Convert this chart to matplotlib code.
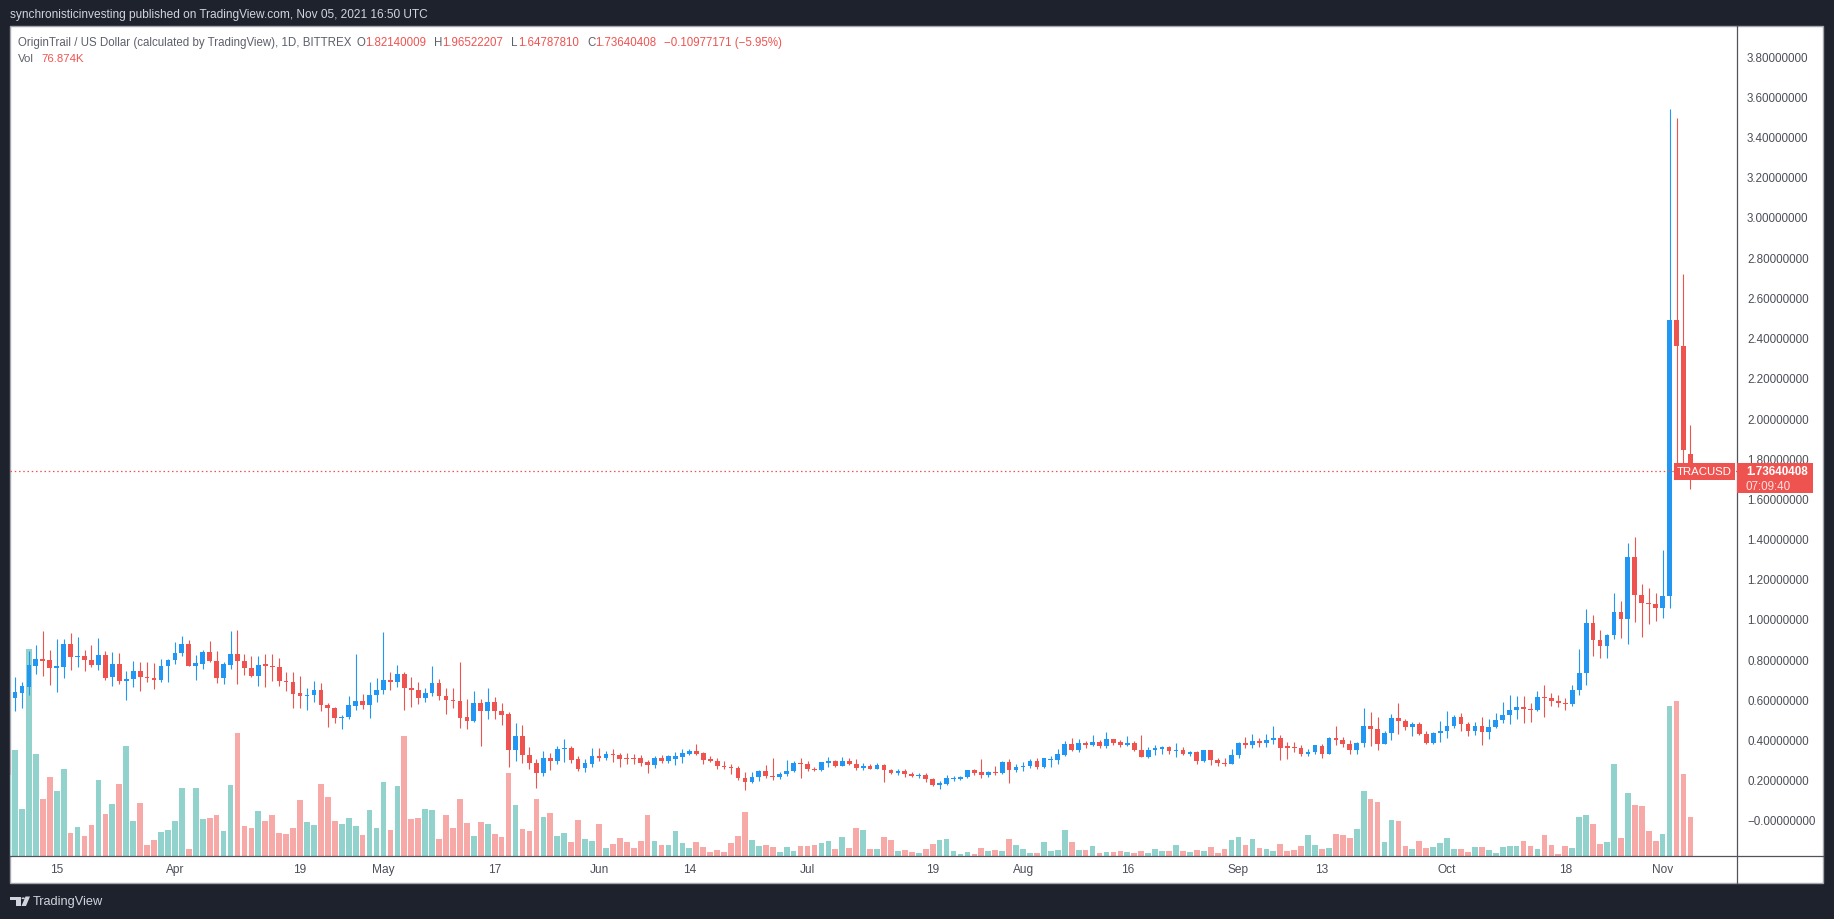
import matplotlib
matplotlib.use("Agg")
import matplotlib.pyplot as plt
import matplotlib.dates as mdates
from matplotlib.patches import Rectangle, Polygon, Circle
from matplotlib.lines import Line2D
import numpy as np
import pandas as pd

W, H = 1834, 920

# TRAC/USD daily candles (BITTREX), 2021-03-08 .. 2021-11-05
opens = [0.545, 0.609, 0.634, 0.663, 0.768, 0.801, 0.796, 0.758, 0.763, 0.876,
         0.813, 0.816, 0.798, 0.773, 0.821, 0.713, 0.776, 0.693, 0.701, 0.741,
         0.713, 0.706, 0.698, 0.766, 0.796, 0.831, 0.876, 0.768, 0.778, 0.836,
         0.793, 0.708, 0.773, 0.826, 0.793, 0.758, 0.718, 0.776, 0.766, 0.763,
         0.693, 0.688, 0.632, 0.619, 0.622, 0.647, 0.574, 0.559, 0.509, 0.512,
         0.569, 0.592, 0.572, 0.622, 0.648, 0.697, 0.685, 0.726, 0.655, 0.648,
         0.609, 0.630, 0.680, 0.619, 0.597, 0.592, 0.514, 0.494, 0.582, 0.544,
         0.587, 0.544, 0.527, 0.348, 0.418, 0.325, 0.284, 0.235, 0.308, 0.294,
         0.353, 0.358, 0.303, 0.260, 0.279, 0.318, 0.308, 0.328, 0.325, 0.308,
         0.308, 0.308, 0.289, 0.275, 0.308, 0.294, 0.303, 0.313, 0.328, 0.343,
         0.333, 0.303, 0.294, 0.270, 0.265, 0.260, 0.209, 0.189, 0.214, 0.244,
         0.219, 0.216, 0.231, 0.244, 0.284, 0.280, 0.254, 0.250, 0.285, 0.294,
         0.270, 0.294, 0.279, 0.259, 0.269, 0.255, 0.274, 0.250, 0.234, 0.244,
         0.229, 0.221, 0.224, 0.204, 0.176, 0.178, 0.205, 0.205, 0.212, 0.249,
         0.239, 0.226, 0.239, 0.234, 0.289, 0.250, 0.262, 0.269, 0.294, 0.264,
         0.298, 0.300, 0.323, 0.378, 0.348, 0.385, 0.373, 0.388, 0.368, 0.403,
         0.388, 0.373, 0.383, 0.348, 0.315, 0.348, 0.355, 0.365, 0.343, 0.348,
         0.330, 0.338, 0.294, 0.348, 0.299, 0.284, 0.279, 0.323, 0.383, 0.373,
         0.393, 0.383, 0.398, 0.408, 0.370, 0.363, 0.358, 0.328, 0.338, 0.370,
         0.328, 0.408, 0.400, 0.378, 0.348, 0.383, 0.468, 0.453, 0.378, 0.433,
         0.507, 0.494, 0.464, 0.478, 0.428, 0.383, 0.433, 0.443, 0.468, 0.512,
         0.478, 0.443, 0.468, 0.438, 0.463, 0.498, 0.522, 0.547, 0.562, 0.552,
         0.547, 0.612, 0.607, 0.592, 0.582, 0.577, 0.647, 0.731, 0.980, 0.896,
         0.866, 0.920, 1.035, 1.000, 1.308, 1.121, 1.080, 1.075, 1.057, 1.114,
         2.486, 2.358, 1.8214]
highs = [0.620, 0.713, 0.688, 0.842, 0.871, 0.940, 0.846, 0.900, 0.900, 0.930,
         0.910, 0.844, 0.871, 0.905, 0.842, 0.837, 0.831, 0.743, 0.791, 0.786,
         0.784, 0.781, 0.801, 0.801, 0.887, 0.917, 0.896, 0.823, 0.846, 0.891,
         0.841, 0.788, 0.940, 0.945, 0.826, 0.814, 0.816, 0.828, 0.826, 0.806,
         0.738, 0.738, 0.715, 0.657, 0.693, 0.682, 0.582, 0.564, 0.521, 0.619,
         0.828, 0.627, 0.687, 0.705, 0.935, 0.736, 0.771, 0.736, 0.710, 0.687,
         0.657, 0.766, 0.701, 0.655, 0.657, 0.788, 0.602, 0.642, 0.602, 0.657,
         0.612, 0.584, 0.536, 0.483, 0.473, 0.363, 0.303, 0.343, 0.333, 0.370,
         0.403, 0.368, 0.317, 0.302, 0.358, 0.358, 0.343, 0.353, 0.333, 0.333,
         0.330, 0.325, 0.297, 0.320, 0.325, 0.325, 0.338, 0.353, 0.353, 0.378,
         0.338, 0.318, 0.308, 0.294, 0.279, 0.269, 0.237, 0.239, 0.249, 0.274,
         0.308, 0.239, 0.299, 0.294, 0.307, 0.294, 0.264, 0.290, 0.313, 0.299,
         0.313, 0.308, 0.303, 0.284, 0.280, 0.284, 0.280, 0.255, 0.254, 0.254,
         0.240, 0.234, 0.235, 0.209, 0.194, 0.222, 0.217, 0.217, 0.249, 0.254,
         0.303, 0.244, 0.269, 0.294, 0.303, 0.279, 0.289, 0.303, 0.307, 0.308,
         0.318, 0.353, 0.393, 0.408, 0.403, 0.395, 0.423, 0.398, 0.438, 0.405,
         0.400, 0.420, 0.393, 0.423, 0.363, 0.375, 0.368, 0.368, 0.383, 0.363,
         0.343, 0.343, 0.348, 0.350, 0.310, 0.310, 0.353, 0.386, 0.413, 0.428,
         0.408, 0.428, 0.468, 0.423, 0.388, 0.388, 0.373, 0.353, 0.375, 0.378,
         0.413, 0.468, 0.413, 0.398, 0.388, 0.557, 0.537, 0.512, 0.443, 0.527,
         0.582, 0.502, 0.488, 0.488, 0.443, 0.438, 0.493, 0.542, 0.522, 0.532,
         0.488, 0.488, 0.512, 0.502, 0.532, 0.587, 0.622, 0.617, 0.617, 0.582,
         0.642, 0.672, 0.632, 0.622, 0.607, 0.672, 0.851, 1.050, 1.020, 0.945,
         0.925, 1.129, 1.090, 1.378, 1.408, 1.176, 1.154, 1.129, 1.341, 3.535,
         3.495, 2.716, 1.9652]
lows = [0.510, 0.544, 0.556, 0.624, 0.726, 0.718, 0.673, 0.638, 0.708, 0.748,
        0.763, 0.743, 0.763, 0.746, 0.698, 0.668, 0.678, 0.599, 0.663, 0.643,
        0.687, 0.653, 0.688, 0.688, 0.776, 0.818, 0.766, 0.698, 0.751, 0.784,
        0.683, 0.678, 0.751, 0.678, 0.723, 0.713, 0.668, 0.663, 0.693, 0.668,
        0.643, 0.559, 0.559, 0.547, 0.589, 0.541, 0.464, 0.483, 0.453, 0.502,
        0.549, 0.552, 0.507, 0.589, 0.629, 0.648, 0.660, 0.549, 0.564, 0.577,
        0.585, 0.619, 0.599, 0.529, 0.557, 0.458, 0.453, 0.489, 0.370, 0.502,
        0.502, 0.474, 0.265, 0.295, 0.284, 0.255, 0.161, 0.221, 0.249, 0.280,
        0.289, 0.284, 0.245, 0.240, 0.265, 0.294, 0.300, 0.289, 0.264, 0.279,
        0.279, 0.269, 0.234, 0.259, 0.284, 0.285, 0.274, 0.284, 0.323, 0.325,
        0.279, 0.289, 0.254, 0.255, 0.229, 0.199, 0.149, 0.186, 0.196, 0.209,
        0.199, 0.206, 0.219, 0.237, 0.209, 0.244, 0.244, 0.245, 0.265, 0.265,
        0.269, 0.275, 0.250, 0.250, 0.252, 0.254, 0.189, 0.229, 0.226, 0.216,
        0.214, 0.209, 0.191, 0.171, 0.154, 0.176, 0.196, 0.201, 0.209, 0.226,
        0.209, 0.216, 0.226, 0.229, 0.184, 0.240, 0.245, 0.259, 0.255, 0.259,
        0.265, 0.279, 0.318, 0.345, 0.340, 0.360, 0.370, 0.360, 0.360, 0.375,
        0.362, 0.367, 0.345, 0.313, 0.310, 0.323, 0.328, 0.328, 0.315, 0.323,
        0.317, 0.280, 0.289, 0.275, 0.270, 0.270, 0.277, 0.308, 0.358, 0.358,
        0.363, 0.363, 0.378, 0.299, 0.303, 0.338, 0.320, 0.320, 0.328, 0.308,
        0.326, 0.375, 0.363, 0.328, 0.328, 0.363, 0.368, 0.348, 0.376, 0.398,
        0.428, 0.448, 0.418, 0.423, 0.380, 0.380, 0.388, 0.408, 0.458, 0.443,
        0.418, 0.423, 0.373, 0.403, 0.458, 0.483, 0.478, 0.502, 0.483, 0.488,
        0.542, 0.512, 0.567, 0.562, 0.547, 0.567, 0.622, 0.672, 0.816, 0.806,
        0.806, 0.900, 0.905, 0.876, 0.985, 0.910, 0.975, 0.990, 1.007, 1.057,
        1.760, 1.760, 1.6479]
closes = [0.605, 0.637, 0.667, 0.771, 0.801, 0.793, 0.758, 0.766, 0.876, 0.813,
          0.816, 0.798, 0.773, 0.821, 0.706, 0.776, 0.693, 0.701, 0.741, 0.713,
          0.705, 0.698, 0.766, 0.796, 0.831, 0.876, 0.768, 0.781, 0.836, 0.793,
          0.708, 0.776, 0.826, 0.793, 0.758, 0.718, 0.771, 0.766, 0.760, 0.693,
          0.688, 0.629, 0.619, 0.622, 0.647, 0.574, 0.559, 0.509, 0.512, 0.572,
          0.592, 0.572, 0.622, 0.648, 0.697, 0.685, 0.726, 0.655, 0.648, 0.609,
          0.630, 0.680, 0.619, 0.595, 0.592, 0.509, 0.494, 0.582, 0.544, 0.587,
          0.544, 0.524, 0.348, 0.418, 0.325, 0.284, 0.235, 0.308, 0.294, 0.353,
          0.358, 0.299, 0.254, 0.284, 0.318, 0.308, 0.328, 0.325, 0.305, 0.303,
          0.302, 0.284, 0.275, 0.308, 0.294, 0.318, 0.318, 0.333, 0.343, 0.328,
          0.299, 0.294, 0.270, 0.265, 0.260, 0.209, 0.189, 0.214, 0.244, 0.219,
          0.216, 0.231, 0.244, 0.284, 0.280, 0.254, 0.250, 0.289, 0.294, 0.270,
          0.294, 0.279, 0.259, 0.269, 0.254, 0.274, 0.250, 0.234, 0.245, 0.229,
          0.221, 0.224, 0.204, 0.176, 0.186, 0.209, 0.210, 0.216, 0.249, 0.234,
          0.226, 0.239, 0.235, 0.289, 0.250, 0.264, 0.269, 0.294, 0.264, 0.308,
          0.305, 0.328, 0.378, 0.348, 0.383, 0.373, 0.388, 0.368, 0.403, 0.383,
          0.373, 0.383, 0.348, 0.315, 0.348, 0.358, 0.365, 0.343, 0.348, 0.328,
          0.337, 0.294, 0.348, 0.299, 0.284, 0.279, 0.323, 0.383, 0.373, 0.393,
          0.383, 0.398, 0.408, 0.358, 0.358, 0.358, 0.328, 0.338, 0.373, 0.328,
          0.408, 0.400, 0.378, 0.348, 0.383, 0.468, 0.453, 0.378, 0.433, 0.507,
          0.494, 0.464, 0.478, 0.428, 0.383, 0.433, 0.443, 0.468, 0.512, 0.478,
          0.443, 0.468, 0.438, 0.463, 0.498, 0.522, 0.547, 0.562, 0.552, 0.547,
          0.612, 0.607, 0.592, 0.582, 0.577, 0.647, 0.731, 0.980, 0.896, 0.866,
          0.920, 1.035, 1.000, 1.308, 1.121, 1.080, 1.075, 1.055, 1.114, 2.486,
          2.358, 1.842, 1.7364]
# volume in thousands
volumes = [160, 209, 93, 408, 201, 112, 156, 128, 171, 45,
           57, 39, 61, 150, 83, 102, 142, 217, 69, 104,
           22, 32, 47, 51, 69, 134, 14, 134, 73, 75,
           81, 49, 140, 242, 59, 55, 89, 69, 81, 45,
           43, 55, 110, 67, 61, 142, 116, 69, 63, 75,
           59, 41, 91, 55, 146, 51, 138, 237, 73, 75,
           93, 91, 33, 81, 55, 112, 65, 39, 67, 63,
           43, 37, 164, 101, 53, 49, 112, 77, 85, 39,
           45, 28, 71, 33, 30, 63, 16, 24, 35, 28,
           16, 30, 81, 30, 22, 22, 49, 26, 16, 28,
           18, 8, 12, 8, 26, 39, 87, 32, 20, 22,
           18, 8, 18, 10, 20, 20, 22, 26, 30, 14,
           37, 16, 55, 51, 14, 14, 37, 32, 10, 12,
           8, 6, 14, 24, 32, 33, 10, 4, 8, 4,
           16, 10, 12, 10, 33, 22, 14, 6, 6, 28,
           10, 12, 51, 28, 12, 12, 20, 6, 8, 8,
           10, 8, 6, 10, 6, 14, 10, 10, 22, 10,
           8, 12, 10, 18, 6, 14, 32, 37, 22, 33,
           16, 14, 10, 24, 10, 12, 20, 41, 22, 14,
           16, 43, 41, 35, 53, 128, 112, 106, 28, 71,
           69, 20, 14, 30, 16, 18, 26, 35, 14, 14,
           8, 18, 18, 12, 6, 18, 20, 20, 30, 20,
           14, 41, 22, 4, 20, 16, 77, 81, 63, 24,
           28, 181, 35, 124, 101, 99, 49, 30, 43, 296,
           305, 162, 76.874]
dates = pd.date_range("2021-03-08", periods=len(opens), freq="D")

price_ticks = [0.0, 0.2, 0.4, 0.6, 0.8, 1.0, 1.2, 1.4, 1.6, 1.8,
               2.0, 2.2, 2.4, 2.6, 2.8, 3.0, 3.2, 3.4, 3.6, 3.8]
date_ticks = ["2021-03-15", "2021-04-01", "2021-04-19", "2021-05-01",
              "2021-05-17", "2021-06-01", "2021-06-14", "2021-07-01",
              "2021-07-19", "2021-08-01", "2021-08-16", "2021-09-01",
              "2021-09-13", "2021-10-01", "2021-10-18", "2021-11-01"]
date_labels = ["15", "Apr", "19", "May", "17", "Jun", "14", "Jul",
               "19", "Aug", "16", "Sep", "13", "Oct", "18", "Nov"]
last_price = 1.73640408

UP = "#2196f3"
DOWN = "#ef5350"
VOL_UP = "#92d2cc"
VOL_DOWN = "#f7a9a7"
DARK = "#1e222d"
AXTXT = "#4c4f59"
GRAY = "#5d606b"
REG = "Liberation Sans"


def fx(px):
    return px / W


def fy(py):
    return 1 - py / H


fig = plt.figure(figsize=(W / 100, H / 100), dpi=100, facecolor=DARK)
renderer = fig.canvas.get_renderer()


def text_row(x_start, y, segs, target_w, fs0=8.0):
    # segs: (text, colour, gap after in px); font size fitted so the row spans target_w
    items = [fig.text(0, 0, t, color=col, fontsize=fs0, family=REG, va="center")
             for t, col, g in segs]
    gaps = sum(g for t, col, g in segs)
    wsum = sum(it.get_window_extent(renderer).width for it in items)
    fs = fs0 * (target_w - gaps) / wsum
    xp = x_start
    for it, (t, col, g) in zip(items, segs):
        it.set_fontsize(fs)
        it.set_position((fx(xp), fy(y)))
        xp += it.get_window_extent(renderer).width + g


# white chart panel
fig.patches.append(Rectangle((fx(10), fy(884)), (1823 - 10) / W, (884 - 27) / H,
                             transform=fig.transFigure, facecolor="white",
                             edgecolor="#a3a6af", lw=1, zorder=-5))

rect = [fx(10), fy(857), (1737 - 10) / W, (857 - 27) / H]
ax_vol = fig.add_axes(rect)
ax = fig.add_axes(rect)
for a in (ax, ax_vol):
    a.patch.set_visible(False)
    for s in a.spines.values():
        s.set_visible(False)

x = mdates.date2num(dates)
o = np.array(opens)
h = np.array(highs)
l = np.array(lows)
c = np.array(closes)
up = c >= o
cols = np.where(up, UP, DOWN)
vcols = np.where(up, VOL_UP, VOL_DOWN)

x0 = mdates.date2num(pd.Timestamp("2021-03-09"))
xlim = (x0 - 0.72, x0 + 247.7)

# volume overlay
ax_vol.bar(x, volumes, width=0.82, color=vcols, lw=0)
ax_vol.set_ylim(0, 830 * 76.874 / 39)
ax_vol.set_xlim(*xlim)
ax_vol.set_xticks([])
ax_vol.set_yticks([])

# candles
ax.vlines(x, l, h, colors=cols, lw=0.8)
ax.bar(x, np.maximum(np.abs(c - o), 0.005), bottom=np.minimum(o, c),
       width=0.68, color=cols, lw=0)
ax.axhline(last_price, color=DOWN, lw=0.9, ls=(0, (1.2, 2.2)))
ax.set_xlim(*xlim)
ax.set_ylim((821 - 857) / 201, (821 - 27) / 201)

ax.yaxis.tick_right()
ax.set_yticks(price_ticks)
ylabels = ["%.8f" % v for v in price_ticks]
ylabels[0] = "\u22120.00000000"
ax.set_yticklabels(ylabels, family=REG)
ax.tick_params(axis="y", length=0, pad=7.2, labelsize=8.4, labelcolor=AXTXT)
ax.set_xticks(mdates.date2num(pd.to_datetime(date_ticks)))
ax.set_xticklabels(date_labels, family=REG)
ax.tick_params(axis="x", length=0, pad=5.3, labelsize=8.6, labelcolor=AXTXT)

# axis separator lines
fig.add_artist(Line2D([fx(1737), fx(1737)], [fy(27), fy(884)], color="#50535e", lw=0.9))
fig.add_artist(Line2D([fx(10), fx(1823)], [fy(857), fy(857)], color="#50535e", lw=0.9))

# last price labels
fig.patches.append(Rectangle((fx(1737), fy(494)), 76 / W, 30 / H, transform=fig.transFigure,
                             facecolor=DOWN, lw=0, zorder=5))
fig.text(fx(1746), fy(472), "1.73640408", color="white", fontsize=8.4, family=REG,
         weight="bold", va="center", zorder=6)
fig.text(fx(1746), fy(487), "07:09:40", color="#fde0df", fontsize=8.4, family=REG,
         va="center", zorder=6)
fig.patches.append(Rectangle((fx(1674), fy(481)), 61 / W, 17 / H, transform=fig.transFigure,
                             facecolor=DOWN, lw=0, zorder=5))
fig.text(fx(1704.5), fy(472.5), "TRACUSD", color="white", fontsize=8.2, family=REG,
         ha="center", va="center", zorder=6)

# header and legend
text_row(10, 15, [("synchronisticinvesting published on TradingView.com, Nov 05, 2021 16:50 UTC",
                   "#d1d4dc", 0)], 419)
text_row(18, 43, [("OriginTrail / US Dollar (calculated by TradingView), 1D, BITTREX", GRAY, 5),
                  ("O", GRAY, 0), ("1.82140009", DOWN, 8),
                  ("H", GRAY, 0), ("1.96522207", DOWN, 8),
                  ("L", GRAY, 0), ("1.64787810", DOWN, 8),
                  ("C", GRAY, 0), ("1.73640408", DOWN, 8),
                  ("\u22120.10977171 (\u22125.95%)", DOWN, 0)], 765)
text_row(18, 59, [("Vol", GRAY, 8), ("76.874K", DOWN, 0)], 66)

# TradingView footer logo
LOGO = "#d1d4dc"


def P(px, py):
    return (fx(px), fy(py))


fig.patches.append(Polygon([P(10, 897.5), P(20.5, 897.5), P(20.5, 907), P(15.5, 907),
                            P(15.5, 900.8), P(10, 900.8)], closed=True,
                           transform=fig.transFigure, facecolor=LOGO, lw=0))
fig.patches.append(Circle(P(23.2, 899.3), 1.7 / W, transform=fig.transFigure,
                          facecolor=LOGO, lw=0))
fig.patches.append(Polygon([P(25.5, 897.5), P(30, 897.5), P(26, 907), P(21.5, 907)],
                           closed=True, transform=fig.transFigure, facecolor=LOGO, lw=0))
fig.text(fx(33), fy(902.5), "TradingView", color=LOGO, fontsize=9.2, family=REG, va="center")

fig.savefig("out.png", dpi=100, facecolor=DARK)
